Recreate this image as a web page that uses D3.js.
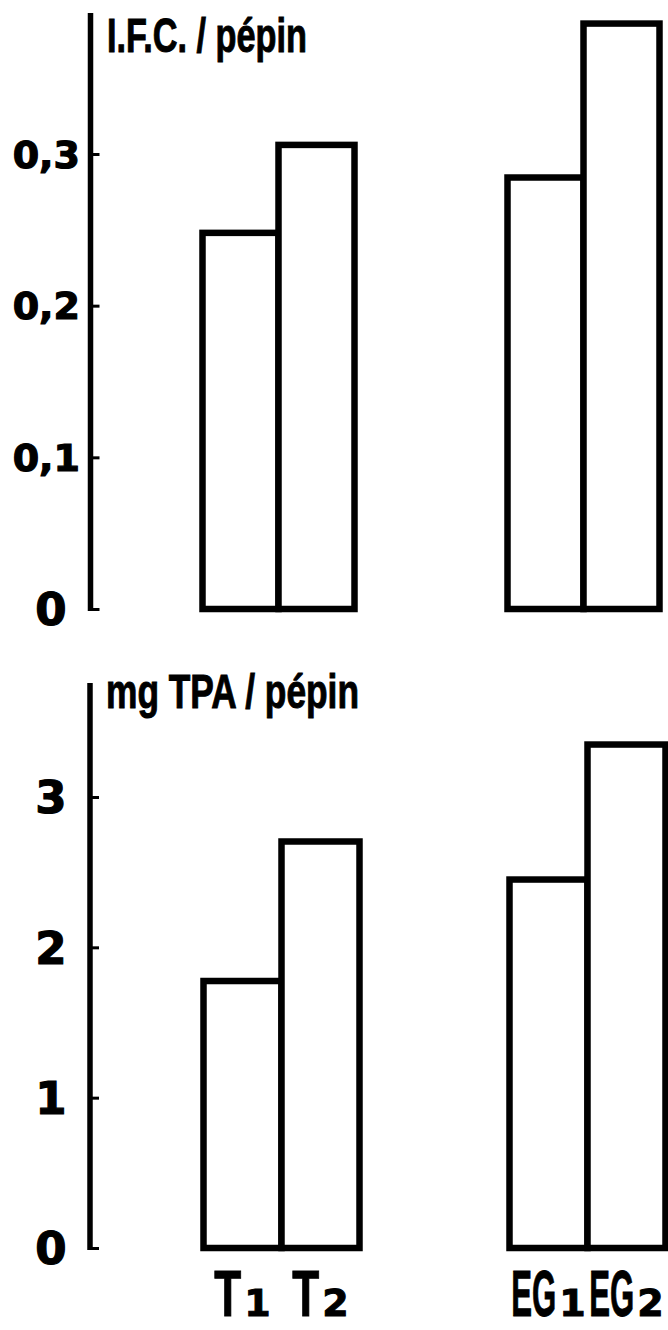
<!DOCTYPE html>
<html>
<head>
<meta charset="utf-8">
<script src="https://cdn.jsdelivr.net/npm/d3@7"></script>
<style>
  html, body { margin: 0; padding: 0; background: #fff; }
  svg { display: block; }
</style>
</head>
<body>
<svg id="chart" width="668" height="1330"></svg>
<script>
// Treatments: two groups (T, EG), each with two sub-samples (1, 2)
const groups = ["T", "EG"];
const subs = ["1", "2"];

// Upper panel: I.F.C. per seed, order T1, T2, EG1, EG2
const ifcValues = [0.248, 0.306, 0.2845, 0.386];
const ifcTicks = [0, 0.1, 0.2, 0.3];
const ifcTickLabels = ["0", "0,1", "0,2", "0,3"];
const ifcTitle = "I.F.C. / pépin";

// Lower panel: mg TPA per seed, order T1, T2, EG1, EG2
const tpaValues = [1.776, 2.704, 2.451, 3.349];
const tpaTicks = [0, 1, 2, 3];
const tpaTickLabels = ["0", "1", "2", "3"];
const tpaTitle = "mg TPA / pépin";

const svg = d3.select("#chart");
const INK = "#000";
const narrow = "'Liberation Sans Narrow', 'Arial Narrow', sans-serif";
const heavy = "'DejaVu Sans', 'Liberation Sans', sans-serif";

function rows(values) {
  return values.map((v, i) => ({ group: groups[Math.floor(i / 2)], sub: subs[i % 2], value: v }));
}

function panel(o) {
  const g = svg.append("g");
  const y = d3.scaleLinear().domain(o.domain).range(o.yRange);
  const xg = d3.scalePoint().domain(groups).range(o.groupCenters);
  const xs = d3.scaleBand().domain(subs).range([-o.barWidth, o.barWidth]);
  const data = rows(o.values);

  // open bars, neighbours share an edge
  g.selectAll("rect.bar").data(data).join("rect")
    .attr("class", "bar")
    .attr("x", d => xg(d.group) + xs(d.sub))
    .attr("width", xs.bandwidth())
    .attr("y", d => y(d.value))
    .attr("height", d => y(0) - y(d.value))
    .attr("fill", "#fff")
    .attr("stroke", INK)
    .attr("stroke-width", 6.5);

  // vertical axis line, running above the last tick
  g.append("line")
    .attr("x1", o.axisX).attr("x2", o.axisX)
    .attr("y1", o.axisTop).attr("y2", y(0) + 2)
    .attr("stroke", INK).attr("stroke-width", 5.5);

  // short tick marks pointing into the plot
  const axis = d3.axisRight(y).tickValues(o.ticks).tickSize(9).tickSizeOuter(0).tickFormat("");
  const ag = g.append("g").attr("transform", `translate(${o.axisX},0)`).call(axis);
  ag.select(".domain").remove();
  ag.selectAll(".tick line").attr("stroke", INK).attr("stroke-width", 3);

  // tick labels
  g.selectAll("text.tick-label").data(o.ticks).join("text")
    .attr("class", "tick-label")
    .each(function (t, i) {
      const label = o.tickLabels[i];
      const decimal = label.includes(",");
      d3.select(this)
        .attr("x", decimal ? 80 : 51)
        .attr("y", y(t))
        .attr("dy", "0.36em")
        .attr("text-anchor", decimal ? "end" : "middle")
        .attr("font-family", heavy)
        .attr("font-weight", "bold")
        .attr("font-size", decimal ? 38 : 45)
        .attr("fill", INK)
        .attr("stroke", INK)
        .attr("stroke-width", 1.2)
        .text(label);
    });

  // unit title beside the axis top
  g.append("text")
    .attr("x", o.titleX).attr("y", o.titleY)
    .attr("font-family", narrow)
    .attr("font-weight", "bold")
    .attr("font-size", 49)
    .attr("textLength", o.titleWidth)
    .attr("lengthAdjust", "spacingAndGlyphs")
    .attr("fill", INK)
    .attr("stroke", INK)
    .attr("stroke-width", 1)
    .text(o.title);

  return { g, xg, xs, data };
}

panel({
  domain: [0, 0.3], yRange: [609, 154],
  groupCenters: [278.5, 583.5], barWidth: 76,
  axisX: 90.5, axisTop: 13,
  values: ifcValues, ticks: ifcTicks, tickLabels: ifcTickLabels,
  title: ifcTitle, titleX: 107, titleY: 52, titleWidth: 200
});

const lower = panel({
  domain: [0, 3], yRange: [1248, 797],
  groupCenters: [281.5, 587.5], barWidth: 78,
  axisX: 90, axisTop: 683,
  values: tpaValues, ticks: tpaTicks, tickLabels: tpaTickLabels,
  title: tpaTitle, titleX: 106, titleY: 708, titleWidth: 253
});

// category labels under the lower panel: squeezed letters followed by a heavy digit
const labelBase = 1316;
lower.data.forEach(d => {
  const cx = lower.xg(d.group) + lower.xs(d.sub) + lower.xs.bandwidth() / 2;
  const letterW = d.group === "T" ? 27 : 45;
  const gap = 3;

  const letters = lower.g.append("text")
    .attr("font-family", narrow)
    .attr("font-weight", "bold")
    .attr("font-size", 64)
    .attr("fill", INK)
    .attr("stroke", INK)
    .attr("stroke-width", 1)
    .text(d.group);
  const natural = letters.node().getComputedTextLength();
  const sx = letterW / natural;

  const digit = lower.g.append("text")
    .attr("y", labelBase)
    .attr("font-family", heavy)
    .attr("font-weight", "bold")
    .attr("font-size", 38)
    .attr("fill", INK)
    .attr("stroke", INK)
    .attr("stroke-width", 1)
    .text(d.sub);
  const dw = digit.node().getComputedTextLength();

  const x0 = cx - (letterW + gap + dw) / 2;
  letters.attr("transform", `translate(${x0},${labelBase}) scale(${sx},1)`);
  digit.attr("x", x0 + letterW + gap);
});
</script>
</body>
</html>
